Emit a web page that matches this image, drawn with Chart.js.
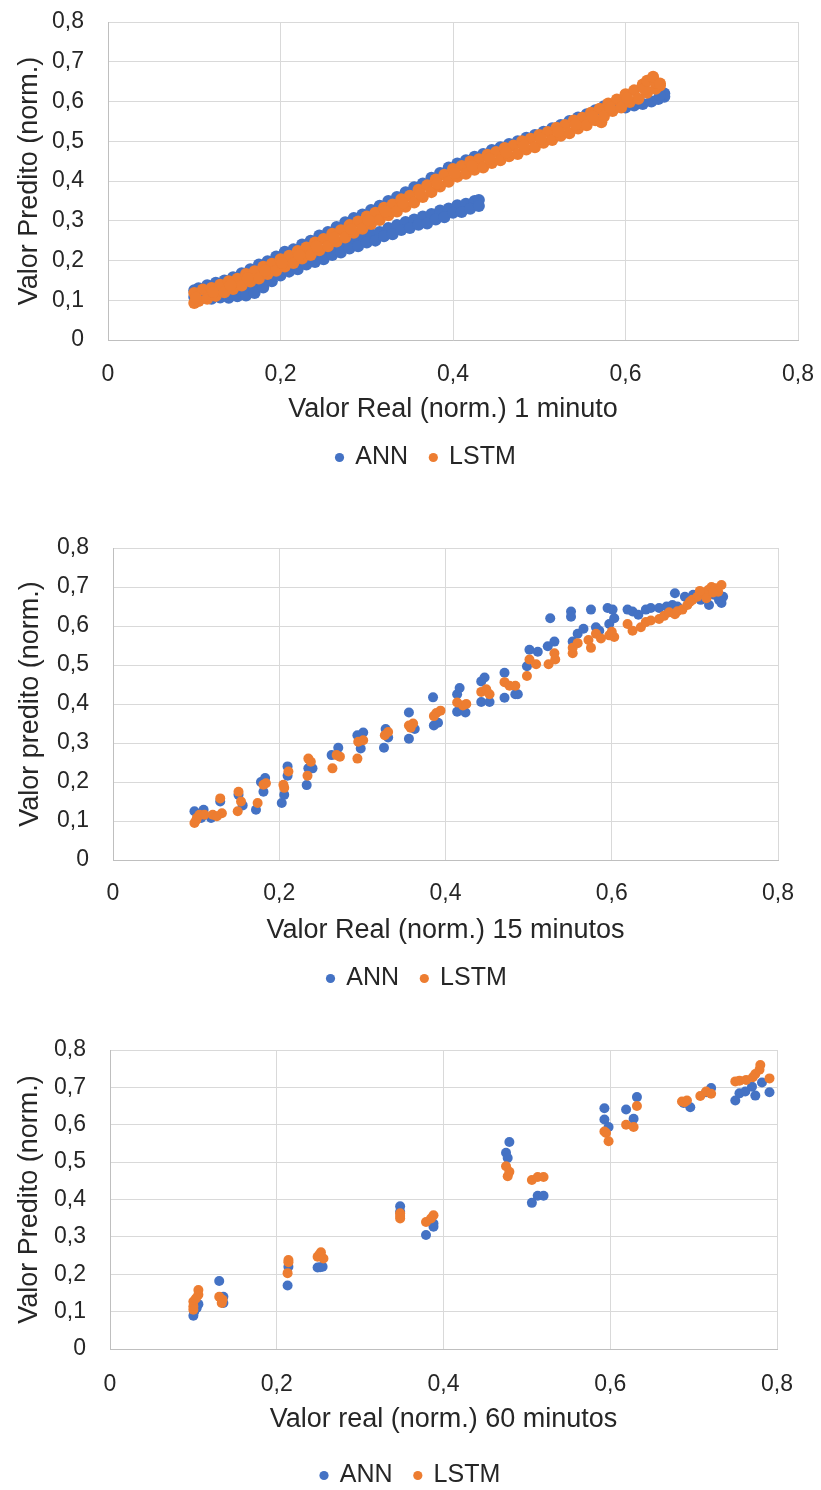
<!DOCTYPE html>
<html>
<head>
<meta charset="utf-8">
<script src="https://cdn.jsdelivr.net/npm/chart.js@4.4.1/dist/chart.umd.min.js"></script>
<style>
html,body{margin:0;padding:0;background:#fff;}
body{width:821px;height:1490px;position:relative;overflow:hidden;}
canvas{position:absolute;left:0;}
</style>
</head>
<body>
<canvas id="c1" width="821" height="480" style="top:0px;width:821px;height:480px"></canvas>
<canvas id="c2" width="821" height="481" style="top:520px;width:821px;height:481px"></canvas>
<canvas id="c3" width="821" height="478" style="top:1020px;width:821px;height:478px"></canvas>
<script>
// ---------- tick labels ----------
const xTickLabels = ['0', '0,2', '0,4', '0,6', '0,8'];
const yTickLabels = ['0', '0,1', '0,2', '0,3', '0,4', '0,5', '0,6', '0,7', '0,8'];
const seriesNames = ['ANN', 'LSTM'];

// ---------- chart 1 : 1 minuto ----------
const ann1Upper = [[0.100,0.125],[0.105,0.130],[0.115,0.138],[0.125,0.144],[0.135,0.150],[0.145,0.158],[0.155,0.168],[0.165,0.178],[0.175,0.190],[0.185,0.198],[0.195,0.210],[0.205,0.222],[0.215,0.228],[0.225,0.240],[0.235,0.250],[0.245,0.263],[0.255,0.272],[0.265,0.284],[0.275,0.296],[0.285,0.307],[0.295,0.316],[0.305,0.327],[0.315,0.338],[0.325,0.350],[0.335,0.360],[0.345,0.372],[0.355,0.384],[0.365,0.394],[0.375,0.408],[0.385,0.420],[0.395,0.434],[0.405,0.444],[0.415,0.452],[0.425,0.461],[0.435,0.468],[0.445,0.478],[0.455,0.485],[0.465,0.493],[0.475,0.500],[0.485,0.509],[0.495,0.516],[0.505,0.524],[0.515,0.533],[0.525,0.541],[0.535,0.551],[0.545,0.560],[0.555,0.568],[0.565,0.578],[0.575,0.588]];
const ann1End = [[0.585,0.580],[0.595,0.586],[0.600,0.585],[0.610,0.590],[0.620,0.594],[0.630,0.600],[0.638,0.606],[0.645,0.612],[0.645,0.620],[0.640,0.616]];
const ann1LowerA = [[0.105,0.122],[0.115,0.120],[0.125,0.118],[0.135,0.121],[0.145,0.122],[0.155,0.126],[0.165,0.131],[0.175,0.140],[0.185,0.155],[0.195,0.170],[0.205,0.185],[0.215,0.192],[0.225,0.200],[0.235,0.210],[0.245,0.217],[0.255,0.226],[0.265,0.233],[0.275,0.242],[0.285,0.249],[0.295,0.257],[0.305,0.266],[0.315,0.272],[0.325,0.282],[0.335,0.289],[0.345,0.297],[0.355,0.303],[0.365,0.311],[0.375,0.317],[0.385,0.326],[0.395,0.331],[0.405,0.339],[0.415,0.343],[0.425,0.350],[0.430,0.352]];
const ann1LowerB = [[0.100,0.108],[0.110,0.106],[0.120,0.104],[0.130,0.107],[0.140,0.106],[0.150,0.110],[0.160,0.112],[0.170,0.118],[0.180,0.132],[0.190,0.148],[0.200,0.162],[0.210,0.172],[0.220,0.178],[0.230,0.190],[0.240,0.196],[0.250,0.203],[0.260,0.214],[0.270,0.220],[0.280,0.230],[0.290,0.236],[0.300,0.245],[0.310,0.250],[0.320,0.261],[0.330,0.266],[0.340,0.277],[0.350,0.282],[0.360,0.290],[0.370,0.293],[0.380,0.303],[0.390,0.309],[0.400,0.320],[0.410,0.322],[0.420,0.330],[0.430,0.337]];
const lstm1Top = [[0.100,0.118],[0.110,0.127],[0.120,0.131],[0.130,0.139],[0.140,0.148],[0.150,0.154],[0.160,0.166],[0.170,0.173],[0.180,0.184],[0.190,0.192],[0.200,0.203],[0.210,0.212],[0.220,0.224],[0.230,0.233],[0.240,0.245],[0.250,0.254],[0.260,0.267],[0.270,0.276],[0.280,0.289],[0.290,0.298],[0.300,0.311],[0.310,0.320],[0.320,0.333],[0.330,0.341],[0.340,0.354],[0.350,0.363],[0.360,0.378],[0.370,0.389],[0.380,0.404],[0.390,0.416],[0.400,0.430],[0.410,0.438],[0.420,0.449],[0.430,0.455],[0.440,0.466],[0.450,0.473],[0.460,0.483],[0.470,0.489],[0.480,0.500],[0.490,0.506],[0.500,0.516],[0.510,0.523],[0.520,0.534],[0.530,0.541],[0.540,0.552],[0.550,0.559],[0.560,0.572],[0.570,0.582],[0.580,0.595],[0.590,0.605],[0.600,0.618],[0.610,0.628],[0.620,0.643],[0.630,0.655]];
const lstm1Bottom = [[0.100,0.093],[0.105,0.098],[0.115,0.104],[0.125,0.111],[0.135,0.120],[0.145,0.128],[0.155,0.137],[0.165,0.147],[0.175,0.155],[0.185,0.166],[0.195,0.174],[0.205,0.185],[0.215,0.194],[0.225,0.205],[0.235,0.214],[0.245,0.226],[0.255,0.236],[0.265,0.248],[0.275,0.258],[0.285,0.270],[0.295,0.280],[0.305,0.292],[0.315,0.302],[0.325,0.314],[0.335,0.323],[0.345,0.335],[0.355,0.346],[0.365,0.360],[0.375,0.372],[0.385,0.386],[0.395,0.398],[0.405,0.411],[0.415,0.418],[0.425,0.428],[0.435,0.434],[0.445,0.445],[0.455,0.452],[0.465,0.462],[0.475,0.468],[0.485,0.479],[0.495,0.485],[0.505,0.496],[0.515,0.503],[0.525,0.514],[0.535,0.520],[0.545,0.532],[0.555,0.540],[0.565,0.553],[0.572,0.548],[0.575,0.562],[0.585,0.576],[0.595,0.585],[0.605,0.599],[0.615,0.607],[0.625,0.622],[0.635,0.632],[0.640,0.640]];
const lstm1Middle = [[0.102,0.106],[0.122,0.121],[0.142,0.138],[0.162,0.156],[0.182,0.175],[0.202,0.194],[0.222,0.214],[0.242,0.235],[0.262,0.257],[0.282,0.279],[0.302,0.301],[0.322,0.323],[0.342,0.344],[0.362,0.368],[0.382,0.394],[0.402,0.420],[0.422,0.438],[0.442,0.456],[0.462,0.472],[0.482,0.489],[0.502,0.506],[0.522,0.524],[0.542,0.542],[0.562,0.562],[0.582,0.585],[0.602,0.608],[0.622,0.632]];
const lstm1Extra = [[0.625,0.652],[0.635,0.648],[0.632,0.662],[0.640,0.645]];

// ---------- chart 2 : 15 minutos ----------
const ann15 = [[0.098,0.125],[0.103,0.116],[0.106,0.108],[0.109,0.129],[0.118,0.108],[0.129,0.150],[0.151,0.167],[0.156,0.140],[0.172,0.129],[0.178,0.200],[0.181,0.175],[0.183,0.210],[0.203,0.146],[0.206,0.167],[0.210,0.240],[0.210,0.216],[0.233,0.192],[0.235,0.235],[0.240,0.235],[0.263,0.269],[0.271,0.288],[0.294,0.320],[0.301,0.327],[0.298,0.286],[0.326,0.288],[0.328,0.336],[0.331,0.314],[0.356,0.378],[0.356,0.311],[0.363,0.336],[0.385,0.417],[0.386,0.345],[0.391,0.352],[0.414,0.425],[0.417,0.441],[0.414,0.380],[0.424,0.378],[0.443,0.458],[0.447,0.468],[0.443,0.405],[0.453,0.405],[0.471,0.480],[0.471,0.416],[0.484,0.425],[0.487,0.425],[0.498,0.497],[0.501,0.539],[0.511,0.534],[0.526,0.620],[0.523,0.548],[0.531,0.560],[0.551,0.637],[0.551,0.624],[0.553,0.560],[0.559,0.580],[0.575,0.642],[0.566,0.593],[0.581,0.597],[0.585,0.588],[0.595,0.646],[0.601,0.642],[0.597,0.605],[0.603,0.620],[0.619,0.642],[0.625,0.637],[0.632,0.629],[0.641,0.642],[0.647,0.646],[0.657,0.646],[0.666,0.650],[0.676,0.684],[0.679,0.650],[0.673,0.654],[0.688,0.675],[0.698,0.680],[0.707,0.667],[0.717,0.654],[0.723,0.680],[0.729,0.667],[0.732,0.659],[0.734,0.675]];
const lstm15 = [[0.098,0.095],[0.101,0.108],[0.104,0.116],[0.100,0.102],[0.110,0.116],[0.120,0.116],[0.129,0.158],[0.131,0.120],[0.125,0.112],[0.151,0.175],[0.154,0.150],[0.150,0.125],[0.174,0.146],[0.181,0.193],[0.184,0.197],[0.205,0.193],[0.206,0.185],[0.211,0.227],[0.235,0.260],[0.234,0.216],[0.238,0.252],[0.264,0.235],[0.269,0.269],[0.273,0.265],[0.294,0.260],[0.295,0.303],[0.301,0.307],[0.327,0.320],[0.331,0.328],[0.358,0.339],[0.361,0.350],[0.356,0.345],[0.386,0.369],[0.389,0.377],[0.394,0.383],[0.414,0.404],[0.421,0.396],[0.425,0.400],[0.443,0.431],[0.449,0.438],[0.453,0.425],[0.471,0.456],[0.477,0.447],[0.484,0.447],[0.498,0.472],[0.501,0.514],[0.509,0.502],[0.524,0.502],[0.531,0.530],[0.532,0.514],[0.553,0.544],[0.559,0.556],[0.553,0.530],[0.572,0.564],[0.575,0.544],[0.581,0.580],[0.587,0.568],[0.597,0.576],[0.603,0.572],[0.600,0.585],[0.619,0.605],[0.625,0.588],[0.635,0.597],[0.641,0.610],[0.647,0.614],[0.657,0.618],[0.663,0.626],[0.669,0.635],[0.676,0.630],[0.679,0.638],[0.685,0.642],[0.691,0.654],[0.697,0.667],[0.703,0.675],[0.710,0.684],[0.716,0.692],[0.720,0.700],[0.725,0.697],[0.732,0.705],[0.728,0.688],[0.714,0.671],[0.694,0.662],[0.706,0.690],[0.722,0.686]];

// ---------- chart 3 : 60 minutos ----------
const ann60 = [[0.100,0.089],[0.101,0.100],[0.104,0.110],[0.106,0.120],[0.104,0.115],[0.131,0.182],[0.136,0.123],[0.136,0.140],[0.213,0.170],[0.214,0.220],[0.249,0.218],[0.255,0.220],[0.252,0.219],[0.348,0.382],[0.348,0.367],[0.379,0.305],[0.388,0.327],[0.388,0.336],[0.475,0.525],[0.477,0.511],[0.479,0.554],[0.506,0.391],[0.513,0.410],[0.520,0.410],[0.593,0.644],[0.593,0.614],[0.598,0.594],[0.619,0.641],[0.628,0.616],[0.632,0.674],[0.688,0.658],[0.696,0.647],[0.721,0.698],[0.715,0.687],[0.750,0.665],[0.755,0.684],[0.762,0.689],[0.770,0.702],[0.774,0.678],[0.782,0.713],[0.791,0.687]];
const lstm60 = [[0.100,0.127],[0.106,0.158],[0.106,0.145],[0.100,0.114],[0.100,0.105],[0.103,0.135],[0.131,0.140],[0.135,0.132],[0.134,0.123],[0.213,0.203],[0.214,0.232],[0.214,0.238],[0.249,0.247],[0.253,0.259],[0.256,0.242],[0.251,0.252],[0.348,0.349],[0.348,0.363],[0.348,0.356],[0.379,0.340],[0.388,0.358],[0.385,0.349],[0.475,0.489],[0.477,0.462],[0.479,0.474],[0.506,0.452],[0.513,0.460],[0.520,0.460],[0.593,0.582],[0.595,0.578],[0.598,0.556],[0.619,0.600],[0.628,0.594],[0.632,0.650],[0.686,0.662],[0.692,0.665],[0.689,0.660],[0.708,0.677],[0.715,0.689],[0.721,0.683],[0.750,0.716],[0.755,0.718],[0.763,0.720],[0.771,0.727],[0.774,0.736],[0.779,0.747],[0.780,0.760],[0.791,0.724]];

// ---------- styling ----------
const BLUE = '#4472C4';
const ORANGE = '#ED7D31';
const TEXT = '#262626';
const GRID = '#d9d9d9';
const AXIS = '#bfbfbf';
const FONT = "'Liberation Sans', Arial, sans-serif";
Chart.defaults.font.family = FONT;
Chart.defaults.color = TEXT;

const legendShift = {
  id: 'legendShift',
  afterLayout(chart, args, opts) {
    const lg = chart.legend;
    if (lg && opts && opts.dx) { lg.left += opts.dx; lg.right += opts.dx; }
  }
};

const toPts = arr => arr.map(p => ({x: p[0], y: p[1]}));

function makeChart(id, ann, lstm, c) {
  new Chart(document.getElementById(id), {
    type: 'scatter',
    data: {
      datasets: [
        {label: seriesNames[0], data: toPts(ann), backgroundColor: BLUE, borderColor: BLUE, pointRadius: c.r, pointBorderWidth: 0, order: 1},
        {label: seriesNames[1], data: toPts(lstm), backgroundColor: ORANGE, borderColor: ORANGE, pointRadius: c.r, pointBorderWidth: 0, order: 0}
      ]
    },
    plugins: [legendShift],
    options: {
      responsive: false,
      animation: false,
      devicePixelRatio: 1,
      events: [],
      layout: {padding: {top: c.padTop, right: c.padRight, bottom: 0, left: 0}},
      plugins: {
        legendShift: {dx: c.legendDx},
        tooltip: {enabled: false},
        legend: {
          position: 'bottom',
          labels: {
            usePointStyle: true, pointStyle: 'circle', boxWidth: 6.5, boxHeight: 6.5,
            padding: 22, color: TEXT, font: {size: 25, family: FONT},
            sort: (a, b) => a.datasetIndex - b.datasetIndex
          }
        }
      },
      scales: {
        x: {
          type: 'linear', min: 0, max: 0.8,
          ticks: {stepSize: 0.2, padding: c.xTickPad, color: TEXT, font: {size: 23, lineHeight: 1}, callback: (v, i) => xTickLabels[i]},
          grid: {color: GRID, lineWidth: 1, drawTicks: false},
          border: {color: AXIS, width: 1},
          title: {display: true, text: c.xTitle, color: TEXT, font: {size: 27, lineHeight: 1}, padding: {top: 0, bottom: c.xTitleBottom}},
          afterFit: s => { s.height = c.xH; s.paddingLeft = 18; s.paddingRight = 18; }
        },
        y: {
          type: 'linear', min: 0, max: 0.8,
          ticks: {stepSize: 0.1, padding: 24, color: TEXT, font: {size: 23, lineHeight: 1}, callback: (v, i) => yTickLabels[i]},
          grid: {color: GRID, lineWidth: 1, drawTicks: false},
          border: {color: AXIS, width: 1},
          title: {display: true, text: c.yTitle, color: TEXT, font: {size: 27, lineHeight: 1}, padding: {top: c.yTitlePad, bottom: 0}},
          afterFit: s => { s.width = c.left; s.paddingTop = 12; s.paddingBottom = 12; }
        }
      }
    }
  });
}

makeChart('c1',
  ann1Upper.concat(ann1End, ann1LowerA, ann1LowerB),
  lstm1Top.concat(lstm1Bottom, lstm1Middle, lstm1Extra),
  {r: 6, padTop: 22, padRight: 23, left: 108, xTickPad: 23, xH: 83, xTitleBottom: 0,
   yTitlePad: 16, legendDx: 27, xTitle: 'Valor Real (norm.) 1 minuto', yTitle: 'Valor Predito (norm.)'});

makeChart('c2', ann15, lstm15,
  {r: 5, padTop: 28, padRight: 43, left: 113, xTickPad: 22, xH: 84, xTitleBottom: 0,
   yTitlePad: 17, legendDx: 28, xTitle: 'Valor Real (norm.) 15 minutos', yTitle: 'Valor predito (norm.)'});

makeChart('c3', ann60, lstm60,
  {r: 5, padTop: 30, padRight: 44, left: 110, xTickPad: 24, xH: 92, xTitleBottom: 8,
   yTitlePad: 16, legendDx: 22, xTitle: 'Valor real (norm.) 60 minutos', yTitle: 'Valor Predito (norm.)'});
</script>
</body>
</html>
